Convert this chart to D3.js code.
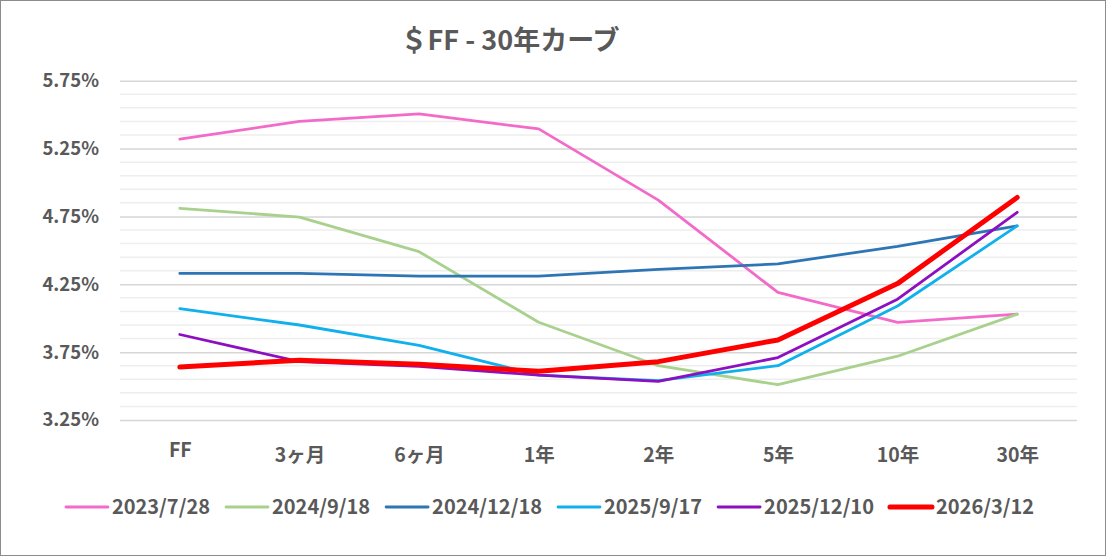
<!DOCTYPE html>
<html>
<head>
<meta charset="utf-8">
<script src="https://cdn.jsdelivr.net/npm/d3@7"></script>
<style>
  body { margin: 0; background: #fff; }
  svg text { font-family: "Noto Sans CJK JP", "Noto Sans", sans-serif; font-weight: 700; fill: #595959; }
</style>
</head>
<body>
<svg id="chart" width="1106" height="557"></svg>
<script>
// data
var categories = ["FF", "3ヶ月", "6ヶ月", "1年", "2年", "5年", "10年", "30年"];
var seriesNames = ["2023/7/28", "2024/9/18", "2024/12/18", "2025/9/17", "2025/12/10", "2026/3/12"];
var r20230728 = [5.32, 5.45, 5.505, 5.395, 4.87, 4.19, 3.97, 4.03];
var r20240918 = [4.81, 4.745, 4.49, 3.97, 3.65, 3.51, 3.72, 4.03];
var r20241218 = [4.33, 4.33, 4.31, 4.31, 4.36, 4.40, 4.53, 4.68];
var r20250917 = [4.07, 3.95, 3.80, 3.58, 3.54, 3.65, 4.09, 4.68];
var r20251210 = [3.88, 3.68, 3.645, 3.58, 3.535, 3.71, 4.14, 4.78];
var r20260312 = [3.64, 3.69, 3.66, 3.61, 3.68, 3.84, 4.255, 4.89];
var majorTicks = [3.25, 3.75, 4.25, 4.75, 5.25, 5.75];

var seriesValues = [r20230728, r20240918, r20241218, r20250917, r20251210, r20260312];
var colors = ["#f26bc9", "#a9d18e", "#2e75b6", "#10b0ec", "#8c0fc0", "#ff0000"];
var widths = [2.8, 2.8, 2.8, 2.8, 2.8, 5];

var svg = d3.select("#chart");

// outer frame
svg.append("rect")
  .attr("x", 0.5).attr("y", 0.5)
  .attr("width", 1105).attr("height", 555)
  .style("fill", "#fff")
  .style("stroke", "#8c8c8c")
  .style("stroke-width", 1);

var x = d3.scalePoint().domain(categories).range([120, 1077]).padding(0.5);
var y = d3.scaleLinear().domain([3.25, 5.75]).range([420, 80.7]);

// minor gridlines every 0.1%
var minor = d3.range(0, 26).map(function (i) { return +(3.25 + i * 0.1).toFixed(2); })
  .filter(function (v) { return majorTicks.indexOf(v) < 0 && v <= 5.75; });

svg.append("g").selectAll("line")
  .data(minor)
  .enter()
  .append("line")
  .attr("x1", 120).attr("x2", 1077)
  .attr("y1", function (d) { return y(d); })
  .attr("y2", function (d) { return y(d); })
  .style("stroke", "#eeeeee")
  .style("stroke-width", 1.5);

// major gridlines + labels via axis
var yAxis = d3.axisLeft(y)
  .tickValues(majorTicks)
  .tickSize(-957)
  .tickPadding(21)
  .tickFormat(function (d) { return d.toFixed(2) + "%"; });

var gy = svg.append("g")
  .attr("transform", "translate(120,0)")
  .call(yAxis);
gy.select(".domain").remove();
gy.selectAll(".tick line").style("stroke", "#d6d6d6").style("stroke-width", 1.5);
gy.selectAll(".tick text").style("font-size", "18.5px");

// x axis labels (FF sits a little higher than the CJK ones, as in the original)
var xAxis = d3.axisBottom(x).tickSize(0).tickPadding(0);
var gx = svg.append("g")
  .attr("transform", "translate(0,0)")
  .call(xAxis);
gx.select(".domain").remove();
gx.selectAll(".tick text")
  .style("font-size", "19.5px")
  .attr("dy", null)
  .attr("y", function (d) { return d == "FF" ? 457 : 462; });

// lines
var line = d3.line()
  .x(function (d, i) { return x(categories[i]); })
  .y(function (d) { return y(d); });

seriesValues.map(function (vals, idx) {
  svg.append("path")
    .datum(vals)
    .attr("d", line)
    .style("fill", "none")
    .style("stroke", colors[idx])
    .style("stroke-width", widths[idx])
    .style("stroke-linejoin", "round")
    .style("stroke-linecap", "round");
});

// title
svg.append("text")
  .attr("x", 510).attr("y", 50)
  .attr("text-anchor", "middle")
  .style("font-size", "27px")
  .text("＄FF - 30年カーブ");

// legend
var legend = svg.append("g");
var items = seriesNames.map(function (name, idx) {
  var g = legend.append("g");
  g.append("line")
    .attr("x1", 0).attr("x2", 42)
    .attr("y1", 0).attr("y2", 0)
    .style("stroke", colors[idx])
    .style("stroke-width", widths[idx])
    .style("stroke-linecap", "round");
  var t = g.append("text")
    .attr("x", 46).attr("y", 0)
    .attr("dy", "0.35em")
    .style("font-size", "20px")
    .text(name);
  return { g: g, w: 46 + t.node().getComputedTextLength() };
});
var gap = 16;
var total = d3.sum(items, function (d) { return d.w; }) + gap * (items.length - 1);
var lx = 550 - total / 2;
items.map(function (it) {
  it.g.attr("transform", "translate(" + lx + ",507)");
  lx += it.w + gap;
});
</script>
</body>
</html>
